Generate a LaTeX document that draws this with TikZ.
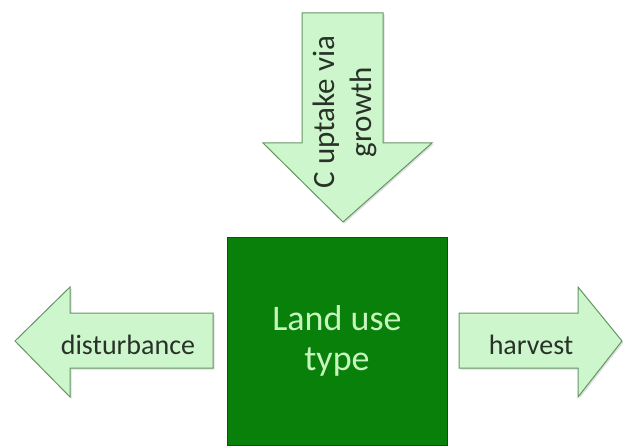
\documentclass[tikz,border=0pt]{standalone}
\usepackage{fontspec}
\setmainfont{Carlito}
\usetikzlibrary{shadows}
\definecolor{boxgreen}{RGB}{8,128,10}
\definecolor{boxline}{RGB}{0,90,0}
\definecolor{boxtext}{RGB}{200,245,190}
\definecolor{flowfill}{RGB}{206,246,204}
\definecolor{flowline}{RGB}{100,150,100}
\definecolor{flowtext}{RGB}{40,50,40}

\begin{document}
\begin{tikzpicture}
  [x=1pt,y=1pt,
   flow/.style={draw=flowline,fill=flowfill,line width=1pt,line join=miter,
     drop shadow={opacity=.25,shadow xshift=1.5pt,shadow yshift=-1.5pt}},
   flowlabel/.style={text=flowtext,font=\fontsize{28}{36}\selectfont,align=center},
   landbox/.style={draw=boxline,fill=boxgreen,line width=.8pt,text=boxtext,
     minimum width=220pt,minimum height=208pt,align=center,
     font=\fontsize{36}{42}\selectfont}]
  \useasboundingbox (0,0) rectangle (623,445);

  \node[landbox] (land) at (337,104) {Land use\\[-2pt]type};

  % block arrows
  \path[flow] (302,432) -- (383,432) -- (383,302) -- (432,302) -- (343,223)
    -- (263,302) -- (302,302) -- cycle;
  \path[flow] (213,132) -- (213,77) -- (70,77) -- (70,48) -- (15,104)
    -- (70,158) -- (70,132) -- cycle;
  \path[flow] (459,132) -- (578,132) -- (578,158) -- (622,104) -- (578,48)
    -- (578,77) -- (459,77) -- cycle;

  \node[flowlabel,rotate=90,font=\fontsize{31}{37}\selectfont] (uptake) at (345,333) {C uptake via\\growth};
  \node[flowlabel] (dist) at (128,100) {disturbance};
  \node[flowlabel] (harv) at (531,100) {harvest};

\end{tikzpicture}
\end{document}
